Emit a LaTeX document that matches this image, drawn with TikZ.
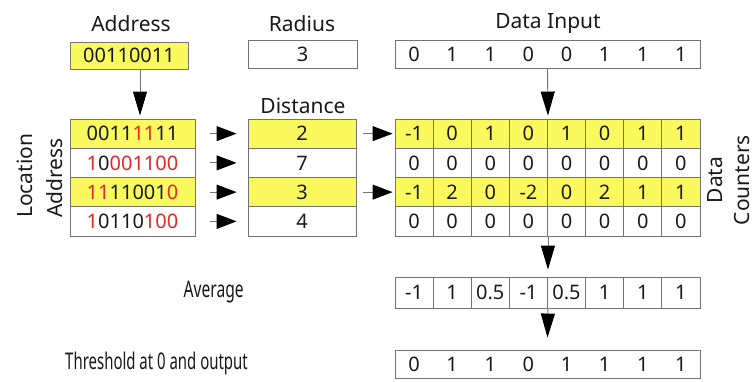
\documentclass[tikz,border=0pt]{standalone}
\usepackage{fontspec}
\setmainfont{Noto Sans}
\usetikzlibrary{arrows.meta}
\definecolor{hlyellow}{RGB}{250,250,95}
\definecolor{rulegrey}{RGB}{115,115,115}
\definecolor{ink}{RGB}{25,25,25}
\definecolor{flipred}{RGB}{225,40,40}
% bits that differ from the query address
\newcommand{\fl}[1]{\textcolor{flipred}{#1}}
\tikzset{
  txt/.style={font=\fontsize{20}{24}\selectfont, text=ink, inner sep=0pt},
  box/.style={txt, draw=rulegrey, line width=0.9pt},
  cell/.style={box, minimum height=29.25pt, minimum width=38.125pt},
  lbl/.style={font=\fontsize{21}{25}\selectfont, text=ink, inner sep=0pt},
  narrowlbl/.style={font=\fontsize{23}{27}\selectfont, text=ink, inner sep=0pt, anchor=east},
  harrow/.style={draw=rulegrey, line width=0.9pt, -{Triangle[length=20pt,width=15pt,color=black]}},
  varrow/.style={draw=rulegrey, line width=0.9pt, -{Triangle[length=24pt,width=14pt,color=black]}},
}
\begin{document}
\begin{tikzpicture}[x=1pt,y=-1pt]
\useasboundingbox (0,0) rectangle (756,381);

% ---- top row: query address, radius, data word
\node[lbl] (addrlbl) at (131,24) {Address};
\node[box, fill=hlyellow, minimum width=118pt, minimum height=27pt] (addr) at (129,55.5) {00110011};
\node[lbl] (radlbl) at (302,24) {Radius};
\node[box, minimum width=109pt, minimum height=28pt] (radius) at (302.5,54) {3};
\node[lbl] (inlbl) at (548,24) {Data Input};
\node[box, minimum width=305pt, minimum height=28pt] (datain) at (547.5,54) {};
\foreach \d [count=\i] in {0,1,1,0,0,1,1,1}
  \node[txt] (in\i) at (395+38.125*\i-19.06,54) {\d};

% ---- hard locations and their Hamming distances
\node[lbl] (distlbl) at (303,106) {Distance};
\foreach \bits/\dd/\fc [count=\r] in {
    {0011\fl{11}11}/2/hlyellow,
    {\fl{1}0\fl{001100}}/7/white,
    {\fl{11}11001\fl{0}}/3/hlyellow,
    {\fl{1}0110\fl{100}}/4/white} {
  \node[box, fill=\fc, minimum width=125pt, minimum height=29.25pt] (loc\r) at (132.5,104.375+29.25*\r) {\bits};
  \node[box, fill=\fc, minimum width=108pt, minimum height=29.25pt] (dist\r) at (302,104.375+29.25*\r) {\dd};
}
\node[lbl, rotate=90, anchor=west] (loclbl) at (25,218) {Location};
\node[lbl, rotate=90, anchor=west] (loclbl2) at (55,218) {Address};

% ---- data counters
\foreach \vals/\fc [count=\r] in {
    {-1,0,1,0,1,0,1,1}/hlyellow,
    {0,0,0,0,0,0,0,0}/white,
    {-1,2,0,-2,0,2,1,1}/hlyellow,
    {0,0,0,0,0,0,0,0}/white} {
  \foreach \v [count=\c] in \vals
    \node[cell, fill=\fc] (cnt\r-\c) at (395+38.125*\c-19.06,104.375+29.25*\r) {\v};
}
\node[lbl, rotate=90] (datalbl) at (715,180) {Data};
\node[lbl, rotate=90] (cntlbl) at (742,180) {Counters};

% ---- average and thresholded output
\node[narrowlbl] (avglbl) at (244,292) {\scalebox{0.68}[1]{Average}};
\foreach \v [count=\c] in {-1,1,0.5,-1,0.5,1,1,1}
  \node[cell, minimum height=31pt] (avg\c) at (395+38.125*\c-19.06,292.5) {\v};
\node[narrowlbl] (thrlbl) at (248,364) {\scalebox{0.65}[1]{Threshold at 0 and output}};
\node[box, minimum width=305pt, minimum height=28pt] (thr) at (547.5,364) {};
\foreach \d [count=\i] in {0,1,1,0,1,1,1,1}
  \node[txt] (out\i) at (395+38.125*\i-19.06,364) {\d};

% ---- connectors
\draw[varrow] ([xshift=11pt]addr.south) -- ([xshift=7.5pt,yshift=3pt]loc1.north);
\foreach \r in {1,...,4}
  \draw[harrow] ([xshift=15pt]loc\r.east) -- ([xshift=-11pt]dist\r.west);
\foreach \r in {1,3}
  \draw[harrow] ([xshift=7pt]dist\r.east) -- ([xshift=-2pt]cnt\r-1.west);
\draw[varrow] (datain.south) -- ([yshift=3pt]cnt1-4.north east);
\draw[varrow] (cnt4-4.south east) -- ([yshift=7pt]avg4.north east);
\draw[varrow] (avg4.south east) -- ([yshift=12pt]thr.north);
\end{tikzpicture}
\end{document}
